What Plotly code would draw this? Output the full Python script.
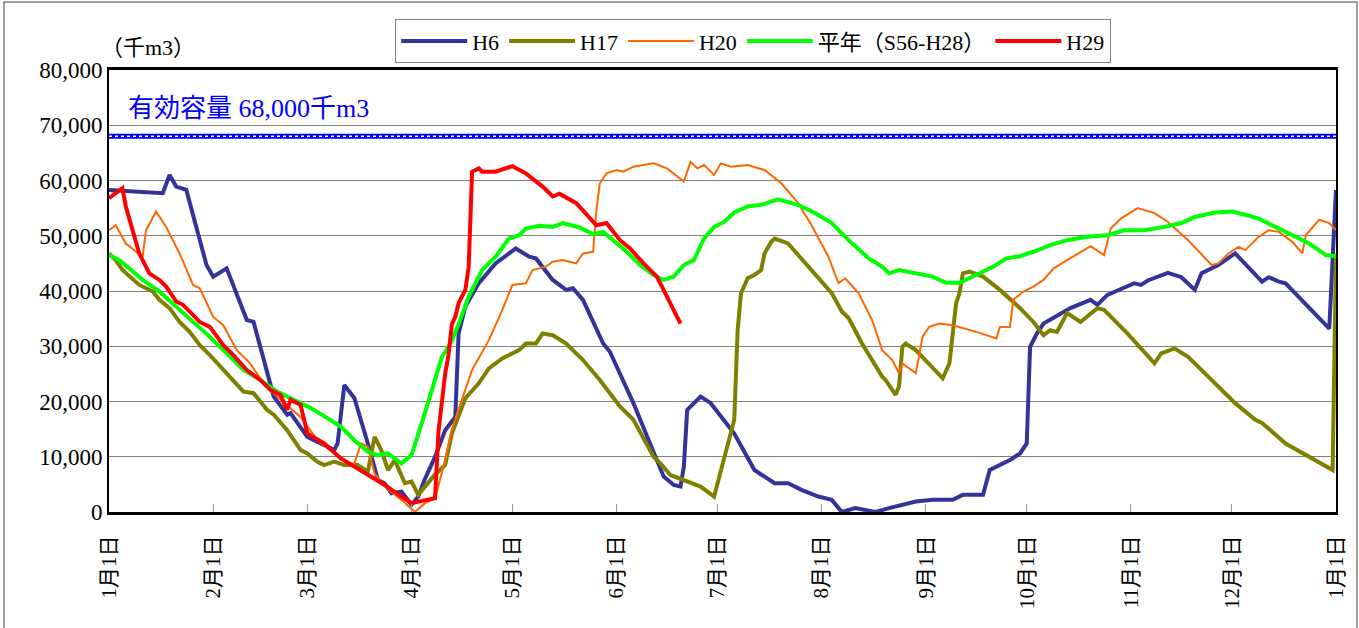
import pandas as pd
import plotly.graph_objects as go

# ---- data (day = days since 1 Jan, value = 千m3) ----
h6_day = [0, 16, 18, 20, 23, 29, 31, 35, 41, 43, 49, 53, 54, 59, 67, 68, 70, 73, 77, 80, 82, 84, 87, 90, 92, 94,
          97, 100, 103, 104, 106, 110, 115, 121, 125, 127, 132, 136, 138, 141, 147, 149, 156, 165, 168, 170, 171,
          172, 176, 179, 186, 192, 198, 202, 206, 211, 215, 218, 222, 228, 232, 240, 245, 251, 254, 260, 262, 268,
          271, 273, 274, 276, 278, 280, 286, 292, 294, 297, 305, 307, 309, 315, 319, 323, 325, 330, 335, 343, 345,
          348, 350, 363, 365]
h6_val = [58300, 57700, 61000, 58900, 58300, 44700, 42600, 44100, 34750, 34400, 20900, 17600, 17900, 13600, 11200,
          12400, 23000, 20600, 12400, 5800, 5200, 3400, 3700, 1300, 2800, 6000, 10000, 14800, 17200, 32300, 37200,
          41400, 45000, 47700, 46200, 45900, 42000, 40200, 40500, 38400, 30500, 29000, 19700, 6400, 4900, 4600, 8200,
          18500, 20900, 19700, 14200, 7600, 5200, 5200, 4000, 2800, 2200, 0, 700, 0, 700, 1900, 2200, 2200, 3100,
          3100, 7600, 9400, 10600, 12400, 29900, 32300, 34100, 34750, 36900, 38400, 37500, 39300, 41400, 41100,
          41900, 43300, 42500, 40200, 43200, 44700, 46800, 41700, 42500, 41700, 41400, 33200, 58300]

h17_day = [0, 2, 4, 9, 13, 15, 18, 21, 24, 27, 30, 34, 40, 43, 47, 49, 53, 57, 59, 62, 64, 67, 70, 74, 77, 79, 81,
           83, 85, 88, 90, 92, 97, 100, 102, 106, 110, 113, 117, 122, 124, 127, 129, 132, 136, 141, 146, 152, 156,
           162, 164, 167, 173, 176, 180, 182, 184, 186, 187, 188, 190, 192, 194, 195, 197, 198, 202, 206, 210, 215,
           218, 220, 224, 230, 231, 234, 235, 236, 237, 240, 248, 250, 252, 253, 254, 256, 260, 265, 271, 275, 278,
           280, 282, 285, 289, 294, 296, 303, 311, 313, 317, 321, 327, 335, 341, 343, 350, 357, 364, 365]
h17_val = [46800, 45600, 43800, 41100, 39900, 38400, 36900, 34400, 32600, 30200, 28400, 25700, 21800, 21500, 18500,
           17600, 14800, 11200, 10600, 9100, 8500, 9100, 8500, 8500, 7300, 13600, 11200, 7600, 9400, 5200, 5500,
           3100, 6800, 8500, 14200, 20600, 23300, 26000, 27800, 29300, 30500, 30500, 32300, 32000, 30500, 27500,
           23900, 19100, 16700, 10000, 8800, 6700, 5200, 4600, 2800, 7600, 12400, 16700, 32900, 39600, 42300, 42900,
           43800, 46800, 48900, 49500, 48600, 45900, 43200, 39600, 36300, 35100, 30500, 24500, 23900, 21200, 22700,
           29900, 30500, 29300, 24200, 26900, 37800, 39600, 43200, 43500, 42600, 40200, 36900, 34400, 32000, 32900,
           32600, 36000, 34400, 36900, 36600, 32300, 26900, 28700, 29600, 28100, 24500, 19700, 16700, 16100, 12400,
           10000, 7600, 46800]

h20_day = [0, 2, 5, 10, 11, 14, 17, 21, 25, 27, 31, 34, 38, 42, 46, 50, 57, 62, 67, 71, 73, 75, 77, 79, 82, 87, 91,
           94, 97, 100, 102, 106, 108, 113, 117, 120, 124, 126, 130, 132, 135, 139, 141, 144, 145, 146, 148, 151,
           153, 156, 162, 166, 171, 173, 175, 177, 180, 182, 185, 190, 195, 200, 205, 209, 214, 217, 219, 223, 227,
           230, 233, 235, 236, 240, 242, 244, 247, 251, 258, 264, 265, 268, 269, 272, 275, 278, 281, 285, 289, 292,
           296, 298, 301, 306, 311, 315, 321, 328, 330, 333, 336, 338, 342, 345, 348, 352, 355, 356, 360, 363, 365]
h20_val = [51000, 51900, 48600, 46200, 51000, 54400, 51600, 46800, 41100, 40500, 35300, 33800, 29300, 26900, 23300,
           20900, 17200, 13000, 10600, 8800, 8800, 12400, 11800, 7000, 4600, 2200, 0, 1600, 2500, 9400, 15000, 22100,
           25700, 31100, 36600, 41100, 41400, 43800, 44400, 45300, 45600, 45000, 46800, 47100, 54700, 59500, 61300,
           61900, 61600, 62500, 63100, 62200, 59800, 63400, 62200, 62800, 61000, 63100, 62500, 62800, 61900, 59500,
           55900, 51900, 46200, 41400, 42300, 39600, 34750, 29300, 27500, 25100, 26900, 25100, 31700, 33500, 34100,
           33800, 32600, 31400, 33500, 33500, 38400, 39900, 40800, 42000, 44100, 45600, 47100, 48100, 46500, 51300,
           53100, 55000, 54100, 52500, 49200, 44700, 45000, 46800, 48000, 47400, 49800, 51000, 50700, 48900, 46800,
           50100, 52900, 52300, 51000]

avg_day = [0, 3, 6, 10, 15, 20, 25, 30, 35, 40, 45, 50, 55, 60, 65, 69, 73, 77, 80, 83, 87, 90, 93, 96, 99, 102,
           104, 107, 111, 115, 119, 122, 124, 128, 132, 135, 140, 144, 147, 150, 154, 158, 162, 165, 168, 171, 174,
           177, 180, 183, 186, 190, 194, 199, 205, 210, 215, 220, 226, 230, 232, 235, 240, 245, 249, 253, 259, 263,
           267, 271, 275, 280, 285, 291, 297, 302, 308, 314, 319, 323, 329, 334, 338, 342, 347, 352, 357, 362, 365]
avg_val = [46500, 45600, 44100, 42000, 39900, 37200, 34400, 31700, 28700, 25700, 23900, 21800, 20300, 18800, 17000,
           15400, 13000, 10900, 10300, 10600, 8800, 10300, 16000, 22000, 28000, 31000, 34000, 39000, 43800, 46200,
           49500, 50100, 51300, 51800, 51600, 52300, 51500, 50300, 50700, 49200, 47100, 44700, 42900, 42000, 42600,
           44700, 45600, 49500, 51600, 52500, 54200, 55300, 55600, 56600, 55600, 54100, 52300, 49200, 45900, 44400,
           43200, 43800, 43200, 42600, 41500, 41500, 43200, 44400, 45900, 46300, 47100, 48300, 49200, 49800, 50100,
           51000, 51000, 51600, 52300, 53400, 54200, 54400, 53800, 53100, 51600, 50100, 48600, 46500, 46300]

h29_day = [0, 4, 5, 7, 9, 12, 15, 17, 20, 22, 27, 30, 34, 37, 41, 45, 48, 51, 53, 54, 57, 59, 64, 69, 77, 82, 87,
           90, 97, 98, 100, 101, 102, 103, 104, 106, 107, 108, 110, 111, 115, 120, 124, 129, 132, 134, 139, 145,
           148, 152, 155, 159, 163, 166, 170]
h29_val = [56800, 58600, 55300, 51000, 46800, 43200, 42000, 40800, 38100, 37500, 34400, 33500, 30200, 28400, 25700,
           23900, 22100, 21200, 18500, 20300, 19400, 14200, 12400, 9700, 6700, 4900, 2800, 1600, 2500, 14500, 25000,
           28500, 34000, 35300, 37800, 40200, 44400, 61600, 62200, 61600, 61600, 62600, 61300, 58900, 57100, 57600,
           55900, 51900, 52300, 49200, 47700, 45000, 42600, 39000, 34100]

capacity = 68000
year_start = "2017-01-01"
year_end = "2018-01-01"
month_labels = ["1月1日", "2月1日", "3月1日", "4月1日", "5月1日", "6月1日", "7月1日",
                "8月1日", "9月1日", "10月1日", "11月1日", "12月1日", "1月1日"]

series = [
    ("H6", h6_day, h6_val, "#333399", 4),
    ("H17", h17_day, h17_val, "#808000", 4),
    ("H20", h20_day, h20_val, "#FF6600", 2),
    ("平年（S56-H28）", avg_day, avg_val, "#00FF00", 4),
    ("H29", h29_day, h29_val, "#FF0000", 4),
]

base = pd.Timestamp(year_start)


def to_dates(days):
    return [base + pd.Timedelta(days=d) for d in days]


SERIF = "Liberation Serif, 'Noto Sans CJK JP', serif"

fig = go.Figure()

# capacity line (blue band with white dots)
fig.add_trace(go.Scatter(x=[year_start, year_end], y=[capacity, capacity], mode="lines",
                         line=dict(color="#0000FF", width=5), showlegend=False, hoverinfo="skip"))
fig.add_trace(go.Scatter(x=[year_start, year_end], y=[capacity, capacity], mode="lines",
                         line=dict(color="#FFFFFF", width=1.5, dash="dot"), showlegend=False, hoverinfo="skip"))

for name, d, v, c, w in series:
    fig.add_trace(go.Scatter(x=to_dates(d), y=v, mode="lines", name=name,
                             line=dict(color=c, width=w)))

tickvals = pd.date_range(year_start, year_end, freq="MS")

fig.update_layout(
    width=1359, height=628,
    margin=dict(l=109, r=23, t=70, b=116),
    paper_bgcolor="white", plot_bgcolor="white",
    font=dict(family=SERIF, color="black", size=22),
    showlegend=True,
    legend=dict(orientation="h", x=0.525, xanchor="center", y=1.115, yanchor="top",
                bordercolor="#808080", borderwidth=1, bgcolor="white",
                font=dict(family=SERIF, size=22), itemwidth=66,
                tracegroupgap=0),
    xaxis=dict(type="date", range=[year_start, year_end], tickvals=list(tickvals),
               ticktext=month_labels, tickangle=-90, showgrid=False,
               showline=True, linecolor="black", linewidth=3, mirror=True,
               ticks="inside", ticklen=8, tickcolor="#999999", tickwidth=1,
               tickfont=dict(family=SERIF, size=21), ticklabelstandoff=12),
    yaxis=dict(range=[0, 80000], dtick=10000, tickformat=",", showgrid=True,
               gridcolor="#808080", gridwidth=1, zeroline=False,
               showline=True, linecolor="black", linewidth=2, mirror=True,
               ticks="", tickfont=dict(family=SERIF, size=23)),
    annotations=[
        dict(text="（千m3）", xref="paper", yref="paper", x=-0.008, y=1.05, xanchor="left",
             yanchor="middle", showarrow=False, font=dict(family=SERIF, size=22, color="black")),
        dict(text="有効容量 68,000千m3", xref="paper", yref="paper", x=0.014, y=0.914,
             xanchor="left", yanchor="middle", showarrow=False,
             font=dict(family=SERIF, size=26, color="#0000FF")),
    ],
    shapes=[
        dict(type="rect", xref="paper", yref="paper", x0=-0.0856, x1=1.0171, y0=-0.3, y1=1.1538,
             line=dict(color="#808080", width=1.5), fillcolor="rgba(0,0,0,0)", layer="below"),
    ],
)

fig.write_html("out.html", config={"displayModeBar": False},
               post_script="document.body.style.margin='0';document.body.style.overflow='hidden';")
